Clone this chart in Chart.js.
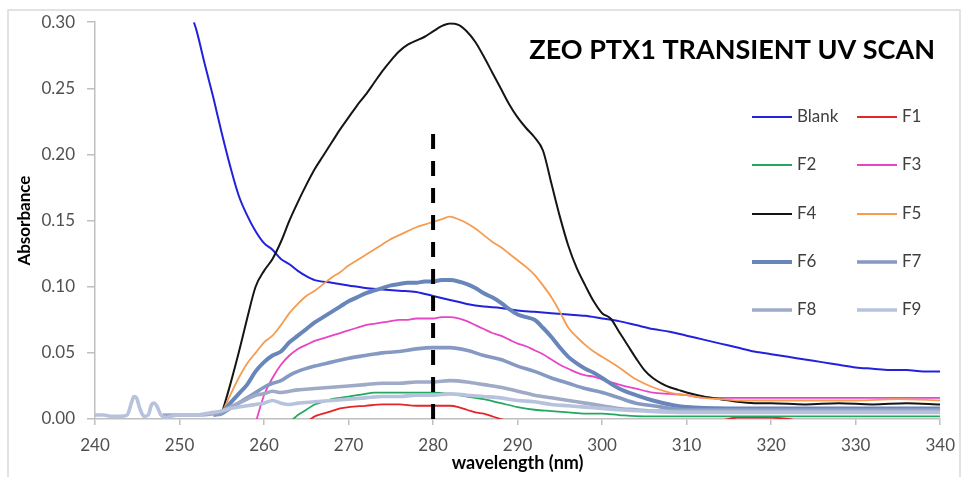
<!DOCTYPE html>
<html>
<head>
<meta charset="utf-8">
<title>ZEO PTX1 Transient UV Scan</title>
<script src="https://cdn.jsdelivr.net/npm/chart.js@4.4.1/dist/chart.umd.min.js"></script>
<style>
    html, body { margin: 0; padding: 0; background: #fff; }
    #wrap { width: 965px; height: 477px; position: relative; }
</style>
</head>
<body>
<div id="wrap"><canvas id="uvChart"></canvas></div>
<script>
// 数据 (wavelength nm / absorbance)
const xTicks = [240, 250, 260, 270, 280, 290, 300, 310, 320, 330, 340];
const yTicks = [0, 0.05, 0.10, 0.15, 0.20, 0.25, 0.30];
const seriesNames = ['Blank', 'F1', 'F2', 'F3', 'F4', 'F5', 'F6', 'F7', 'F8', 'F9'];

const blankNm = [251.7, 252, 253, 254, 255, 256, 257, 258, 259, 260, 261, 262, 263, 264, 265, 266, 268, 270, 272, 274, 276, 278, 280, 282, 284, 286, 288, 290, 292, 294, 296, 298, 300, 302, 304, 306, 308, 310, 312, 314, 316, 318, 320, 322, 324, 326, 328, 330, 332, 334, 336, 338, 340];
const blankAbs = [0.300, 0.294, 0.268, 0.243, 0.216, 0.191, 0.169, 0.154, 0.142, 0.133, 0.128, 0.121, 0.117, 0.112, 0.108, 0.105, 0.103, 0.101, 0.099, 0.098, 0.097, 0.096, 0.093, 0.090, 0.087, 0.085, 0.084, 0.082, 0.081, 0.080, 0.079, 0.078, 0.076, 0.074, 0.071, 0.068, 0.066, 0.063, 0.060, 0.057, 0.054, 0.051, 0.049, 0.047, 0.045, 0.043, 0.041, 0.039, 0.038, 0.037, 0.037, 0.036, 0.036];

const f1Nm = [265.3, 266, 267, 268, 269, 270, 272, 274, 276, 278, 280, 282, 283, 284, 285, 286, 287, 288, 290, 295, 300, 305, 310, 314, 316, 318, 320, 322, 324, 330, 335, 340];
const f1Abs = [-0.001, 0.002, 0.004, 0.006, 0.008, 0.009, 0.010, 0.011, 0.011, 0.010, 0.010, 0.010, 0.009, 0.007, 0.005, 0.004, 0.002, 0.000, -0.003, -0.004, -0.004, -0.003, -0.002, -0.001, 0.001, 0.001, 0.001, 0.000, -0.002, -0.003, -0.003, -0.003];

const f2Nm = [263.3, 264, 265, 266, 267, 268, 269, 270, 271, 272, 273, 274, 276, 278, 280, 282, 284, 285, 286, 288, 290, 292, 294, 296, 298, 300, 302, 305, 310, 320, 330, 340];
const f2Abs = [-0.001, 0.003, 0.007, 0.011, 0.013, 0.015, 0.016, 0.017, 0.018, 0.019, 0.020, 0.020, 0.020, 0.020, 0.020, 0.019, 0.017, 0.016, 0.015, 0.012, 0.009, 0.007, 0.006, 0.005, 0.004, 0.004, 0.003, 0.002, 0.002, 0.002, 0.002, 0.002];

const f3Nm = [259, 260, 261, 262, 263, 264, 265, 266, 267, 268, 269, 270, 271, 272, 273, 274, 275, 276, 277, 278, 279, 280, 281, 282, 283, 284, 285, 286, 287, 288, 289, 290, 291, 292, 293, 294, 295, 296, 297, 298, 299, 300, 302, 304, 306, 308, 310, 312, 314, 320, 325, 330, 335, 340];
const f3Abs = [-0.003, 0.018, 0.031, 0.041, 0.048, 0.053, 0.056, 0.059, 0.061, 0.063, 0.065, 0.067, 0.069, 0.071, 0.072, 0.073, 0.074, 0.075, 0.075, 0.076, 0.076, 0.076, 0.077, 0.077, 0.076, 0.074, 0.071, 0.068, 0.065, 0.063, 0.060, 0.057, 0.055, 0.052, 0.049, 0.045, 0.041, 0.038, 0.035, 0.033, 0.032, 0.030, 0.026, 0.023, 0.020, 0.019, 0.018, 0.016, 0.016, 0.016, 0.016, 0.016, 0.016, 0.016];

const f4Nm = [255, 256, 257, 258, 259, 260, 261, 262, 263, 264, 265, 266, 267, 268, 269, 270, 271, 272, 273, 274, 275, 276, 277, 278, 279, 280, 281, 282, 283, 284, 285, 286, 287, 288, 289, 290, 291, 292, 293, 294, 295, 296, 297, 298, 299, 300, 301, 302, 303, 304, 305, 306, 307, 308, 309, 310, 312, 314, 316, 318, 320, 324, 328, 332, 336, 340];
const f4Abs = [0.004, 0.026, 0.050, 0.076, 0.100, 0.112, 0.121, 0.134, 0.150, 0.164, 0.177, 0.189, 0.199, 0.209, 0.219, 0.228, 0.237, 0.245, 0.254, 0.263, 0.271, 0.278, 0.283, 0.286, 0.289, 0.293, 0.297, 0.299, 0.298, 0.293, 0.285, 0.274, 0.262, 0.250, 0.238, 0.228, 0.220, 0.213, 0.203, 0.178, 0.153, 0.131, 0.114, 0.101, 0.089, 0.080, 0.076, 0.066, 0.056, 0.046, 0.037, 0.031, 0.027, 0.024, 0.022, 0.020, 0.017, 0.015, 0.013, 0.012, 0.012, 0.011, 0.012, 0.011, 0.012, 0.011];

const f5Nm = [255, 256, 257, 258, 259, 260, 261, 262, 263, 264, 265, 266, 267, 268, 269, 270, 271, 272, 273, 274, 275, 276, 277, 278, 279, 280, 281, 282, 283, 284, 285, 286, 287, 288, 289, 290, 291, 292, 293, 294, 295, 296, 297, 298, 299, 300, 302, 304, 306, 308, 310, 312, 314, 316, 320, 325, 330, 335, 340];
const f5Abs = [0.004, 0.018, 0.031, 0.042, 0.050, 0.058, 0.063, 0.071, 0.080, 0.087, 0.093, 0.097, 0.102, 0.107, 0.111, 0.116, 0.120, 0.124, 0.128, 0.132, 0.136, 0.139, 0.142, 0.145, 0.147, 0.149, 0.151, 0.153, 0.151, 0.148, 0.144, 0.139, 0.134, 0.130, 0.125, 0.120, 0.115, 0.109, 0.101, 0.092, 0.081, 0.069, 0.062, 0.056, 0.051, 0.047, 0.039, 0.030, 0.024, 0.020, 0.018, 0.016, 0.015, 0.014, 0.014, 0.014, 0.014, 0.015, 0.014];

const f6Nm = [254, 255, 256, 257, 258, 259, 260, 261, 262, 263, 264, 265, 266, 267, 268, 269, 270, 271, 272, 273, 274, 275, 276, 277, 278, 279, 280, 281, 282, 283, 284, 285, 286, 287, 288, 289, 290, 291, 292, 293, 294, 295, 296, 297, 298, 299, 300, 302, 304, 306, 308, 310, 315, 320, 325, 330, 335, 340];
const f6Abs = [0.003, 0.005, 0.012, 0.019, 0.026, 0.036, 0.043, 0.048, 0.051, 0.058, 0.063, 0.068, 0.073, 0.077, 0.081, 0.085, 0.089, 0.092, 0.095, 0.097, 0.099, 0.101, 0.102, 0.103, 0.103, 0.104, 0.104, 0.105, 0.105, 0.104, 0.102, 0.099, 0.095, 0.092, 0.088, 0.083, 0.079, 0.077, 0.075, 0.069, 0.062, 0.054, 0.047, 0.042, 0.038, 0.035, 0.031, 0.023, 0.018, 0.014, 0.011, 0.009, 0.008, 0.008, 0.008, 0.008, 0.008, 0.008];

const f7Nm = [254, 255, 256, 257, 258, 259, 260, 261, 262, 263, 264, 266, 268, 270, 272, 274, 276, 278, 280, 282, 284, 286, 288, 290, 292, 294, 296, 298, 300, 302, 304, 306, 310, 315, 320, 325, 330, 335, 340];
const f7Abs = [0.003, 0.004, 0.008, 0.012, 0.016, 0.020, 0.024, 0.027, 0.029, 0.033, 0.036, 0.040, 0.043, 0.046, 0.048, 0.050, 0.051, 0.053, 0.054, 0.054, 0.052, 0.048, 0.045, 0.040, 0.036, 0.031, 0.027, 0.023, 0.020, 0.016, 0.012, 0.010, 0.007, 0.007, 0.007, 0.007, 0.007, 0.007, 0.007];

const f8Nm = [248, 250, 252, 254, 255, 256, 257, 258, 259, 260, 261, 262, 263, 264, 266, 268, 270, 272, 274, 276, 278, 280, 282, 284, 286, 288, 290, 292, 294, 296, 298, 300, 302, 304, 306, 310, 315, 320, 325, 330, 335, 340];
const f8Abs = [0.003, 0.003, 0.003, 0.004, 0.006, 0.009, 0.012, 0.015, 0.018, 0.019, 0.021, 0.020, 0.021, 0.022, 0.023, 0.024, 0.025, 0.026, 0.027, 0.027, 0.028, 0.028, 0.029, 0.028, 0.026, 0.024, 0.021, 0.018, 0.016, 0.014, 0.012, 0.010, 0.008, 0.007, 0.006, 0.006, 0.006, 0.006, 0.006, 0.006, 0.006, 0.006];

const f9Nm = [240, 241, 242, 243, 243.8, 244.3, 244.6, 244.9, 245.3, 245.8, 246.3, 246.7, 247.0, 247.3, 247.8, 248.5, 249, 250, 251, 252, 253, 254, 255, 256, 257, 258, 259, 260, 261, 262, 263, 264, 266, 268, 270, 272, 274, 276, 278, 280, 282, 284, 286, 288, 290, 292, 294, 296, 298, 300, 302, 305, 310, 315, 320, 325, 330, 335, 340];
const f9Abs = [0.003, 0.003, 0.002, 0.002, 0.003, 0.012, 0.017, 0.016, 0.008, 0.002, 0.003, 0.011, 0.012, 0.010, 0.003, 0.001, 0.002, 0.003, 0.003, 0.003, 0.004, 0.005, 0.006, 0.008, 0.009, 0.010, 0.011, 0.012, 0.014, 0.012, 0.011, 0.012, 0.013, 0.014, 0.015, 0.016, 0.017, 0.017, 0.018, 0.018, 0.019, 0.018, 0.017, 0.016, 0.014, 0.013, 0.011, 0.010, 0.009, 0.008, 0.007, 0.006, 0.005, 0.005, 0.005, 0.005, 0.005, 0.005, 0.005];

// 280 nm marker
const markerNm = [280, 280];
const markerAbs = [0, 0.22];

const seriesNm = [blankNm, f1Nm, f2Nm, f3Nm, f4Nm, f5Nm, f6Nm, f7Nm, f8Nm, f9Nm];
const seriesAbs = [blankAbs, f1Abs, f2Abs, f3Abs, f4Abs, f5Abs, f6Abs, f7Abs, f8Abs, f9Abs];

// styles
const seriesColors = ['#2222dd', '#e3262b', '#22a862', '#e844c6', '#151515', '#f59c4f', '#6886ba', '#8599c2', '#9eaac6', '#b7c2dc'];
const seriesWidths = [2, 1.8, 1.8, 1.8, 2, 1.8, 4, 3.6, 3.6, 3.6];

Chart.defaults.font.family = 'Lato, "Open Sans", sans-serif';

function zip(xs, ys) {
    return xs.map((x, i) => ({ x: x, y: ys[i] }));
}

// 边框
const framePlugin = {
    id: 'frame',
    beforeDraw(chart) {
        const ctx = chart.ctx;
        ctx.save();
        ctx.fillStyle = '#fff';
        ctx.fillRect(0, 0, chart.width, chart.height);
        ctx.strokeStyle = '#d9d9d9';
        ctx.lineWidth = 1.5;
        ctx.strokeRect(8, 10, 952, 480);
        ctx.restore();
    }
};

// 标题 + 图例 (inside plot area)
const overlayPlugin = {
    id: 'overlay',
    afterDraw(chart) {
        const ctx = chart.ctx;
        ctx.save();
        ctx.fillStyle = '#000';
        ctx.font = 'bold 27px Lato, "Open Sans", sans-serif';
        ctx.textAlign = 'right';
        ctx.textBaseline = 'middle';
        ctx.fillText('ZEO PTX1 TRANSIENT UV SCAN', 935, 50);

        const colX = [752, 857];
        const rowY = [117, 165, 214, 262, 310];
        ctx.font = '17px Lato, "Open Sans", sans-serif';
        ctx.textAlign = 'left';
        seriesNames.forEach((name, i) => {
            const x = colX[i % 2];
            const y = rowY[Math.floor(i / 2)];
            ctx.strokeStyle = seriesColors[i];
            ctx.lineWidth = seriesWidths[i];
            ctx.beginPath();
            ctx.moveTo(x, y);
            ctx.lineTo(x + 40, y);
            ctx.stroke();
            ctx.fillStyle = '#404040';
            ctx.fillText(name, x + 45, y);
        });
        ctx.restore();
    }
};

function initUvChart() {
    const ctx = document.getElementById('uvChart');

    const datasets = seriesNames.map((name, i) => ({
        label: name,
        data: zip(seriesNm[i], seriesAbs[i]),
        borderColor: seriesColors[i],
        borderWidth: seriesWidths[i],
        pointRadius: 0,
        cubicInterpolationMode: 'monotone',
        fill: false,
        order: 20 - i
    }));

    datasets.push({
        label: '280 nm',
        data: zip(markerNm, markerAbs),
        borderColor: '#000',
        borderWidth: 4,
        borderDash: [15, 12],
        pointRadius: 0,
        fill: false,
        order: 0
    });

    new Chart(ctx, {
        type: 'line',
        data: { datasets: datasets },
        options: {
            responsive: true,
            maintainAspectRatio: false,
            animation: false,
            layout: { padding: { left: 10, right: 19, top: 22, bottom: 0 } },
            plugins: {
                legend: { display: false },
                tooltip: { enabled: false }
            },
            scales: {
                x: {
                    type: 'linear',
                    min: xTicks[0],
                    max: xTicks[xTicks.length - 1],
                    afterBuildTicks: (scale) => { scale.ticks = xTicks.map(v => ({ value: v })); },
                    afterFit: (scale) => { scale.height = 58; },
                    ticks: {
                        color: '#505050',
                        font: { size: 17 },
                        padding: 10,
                        maxRotation: 0
                    },
                    grid: { drawOnChartArea: false, drawTicks: true, tickLength: 6, color: '#bfbfbf', lineWidth: 1.5 },
                    border: { color: '#bfbfbf', width: 1.5 },
                    title: {
                        display: true,
                        text: 'wavelength (nm)',
                        color: '#000',
                        font: { size: 18, weight: 'bold' },
                        padding: { top: 0, bottom: 3 }
                    }
                },
                y: {
                    min: yTicks[0],
                    max: yTicks[yTicks.length - 1],
                    afterBuildTicks: (scale) => { scale.ticks = yTicks.map(v => ({ value: v })); },
                    afterFit: (scale) => { scale.width = 85; },
                    ticks: {
                        color: '#505050',
                        font: { size: 17 },
                        padding: 12,
                        callback: (v) => Number(v).toFixed(2)
                    },
                    grid: { drawOnChartArea: false, drawTicks: true, tickLength: 8, color: '#bfbfbf', lineWidth: 1.5 },
                    border: { color: '#bfbfbf', width: 1.5 },
                    title: {
                        display: true,
                        text: 'Absorbance',
                        color: '#000',
                        font: { size: 17, weight: 'bold' },
                        padding: { top: 4, bottom: 0 }
                    }
                }
            }
        },
        plugins: [framePlugin, overlayPlugin]
    });
}

document.addEventListener('DOMContentLoaded', function() {
    initUvChart();
});
</script>
</body>
</html>
